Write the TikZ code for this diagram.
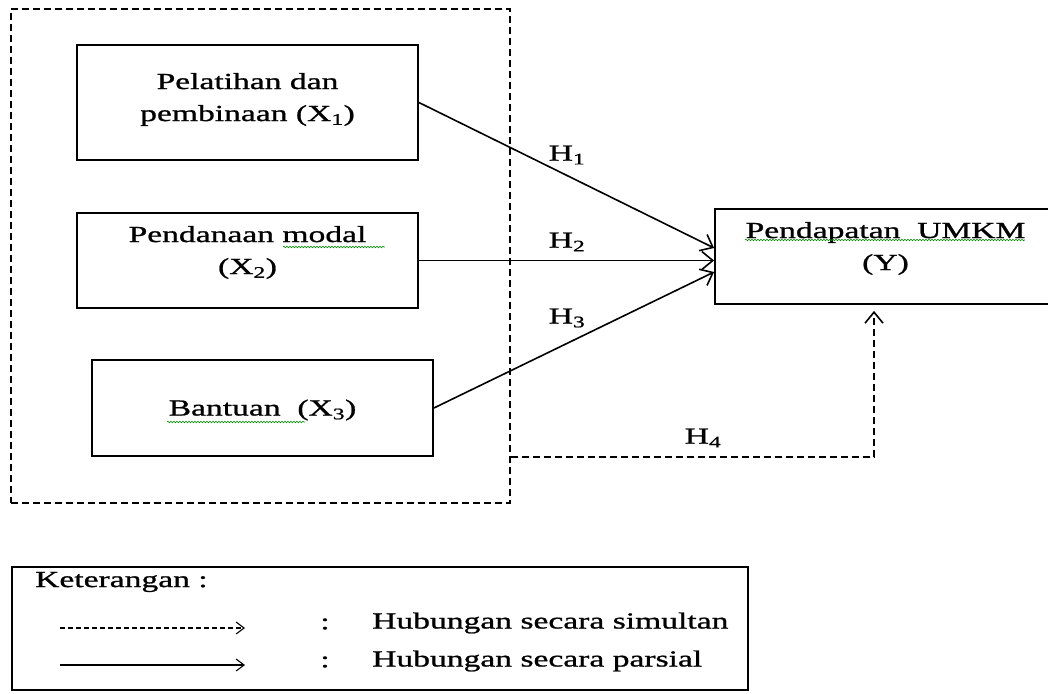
\documentclass[tikz,border=0pt]{standalone}
\usepackage{fontspec}
\setmainfont{Liberation Serif}[FakeStretch=1.46, FakeBold=1]
\usetikzlibrary{arrows.meta,decorations.pathmorphing}

\begin{document}
\begin{tikzpicture}[x=1pt, y=-1pt,
  every node/.style={font=\fontsize{23}{32}\selectfont, inner sep=0pt},
  varbox/.style={draw, line width=1.8pt, minimum width=341pt},
  parsial/.style={-{Straight Barb[length=11pt,width=18pt]}, line width=1.6pt},
  simultan/.style={parsial, dash pattern=on 7pt off 4pt},
  wavy/.style={draw=green!55!black, line width=0.6pt, decorate,
    decoration={snake, amplitude=0.8pt, segment length=3pt}}]
  \useasboundingbox (0,0) rectangle (1048,693);
  \node[draw, line width=1.6pt, dash pattern=on 7pt off 4pt,
    minimum width=499pt, minimum height=494pt] (grp) at (260.5,256) {};

  \node[varbox, minimum height=115pt] (x1) at (247.5,102.5) {};
  \node[varbox, minimum height=95pt] (x2) at (247.5,260.5) {};
  \node[varbox, minimum height=96pt] (x3) at (262.5,408) {};
  \node[varbox, minimum height=95pt] (yv) at (885.5,256.5) {};
  \node[align=center] (x1t) at ([yshift=3pt]x1.center) {Pelatihan dan\\pembinaan (X\textsubscript{1})};
  \node[align=center] (x2t) at ([yshift=8pt]x2.center) {Pendanaan modal\\(X\textsubscript{2})};
  \node (x3t) at ([yshift=-2pt]x3.center) {Bantuan~~(X\textsubscript{3})};
  \node[align=center] (yvt) at ([yshift=8pt]yv.center) {Pendapatan~~UMKM\\(Y)};

  \draw[parsial] (x1.east) -- ([yshift=8.5pt]yv.west);
  \draw[parsial] (x2.east) -- (x2.east -| yv.west);
  \draw[parsial] (x3.east) -- ([yshift=-15.5pt]yv.west);
  \draw[simultan] (grp.east |- x3.south) -| ([xshift=-11.5pt, yshift=-6pt]yv.south);

  \node (h1) at (567,155) {H\textsubscript{1}};
  \node (h2) at (567,242) {H\textsubscript{2}};
  \node (h3) at (567,318) {H\textsubscript{3}};
  \node (h4) at (703,438) {H\textsubscript{4}};

  \draw[wavy] (283,247) -- (385,247);
  \draw[wavy] (745,240) -- (1025,240);
  \draw[wavy] (167,422) -- (305,422);

  \node[draw, line width=1.6pt, minimum width=736pt, minimum height=123pt] (leg) at (380,628.5) {};
  \node[anchor=west] (ket) at (35,582) {Keterangan :};
  \coordinate (s0) at (60,628);
  \coordinate (s1) at (245,628);
  \draw[simultan, -{Straight Barb[length=8pt,width=12pt]}, dash pattern=on 5pt off 3pt, line width=1.1pt] (s0) -- (s1);
  \node (c1) at (325,624) {:};
  \node[anchor=west] (t1) at (372,623) {Hubungan secara simultan};
  \coordinate (p0) at (60,665);
  \coordinate (p1) at (245,665);
  \draw[parsial, -{Straight Barb[length=8pt,width=12pt]}, line width=1.1pt] (p0) -- (p1);
  \node (c2) at (325,662) {:};
  \node[anchor=west] (t2) at (372,661) {Hubungan secara parsial};
\end{tikzpicture}
\end{document}
